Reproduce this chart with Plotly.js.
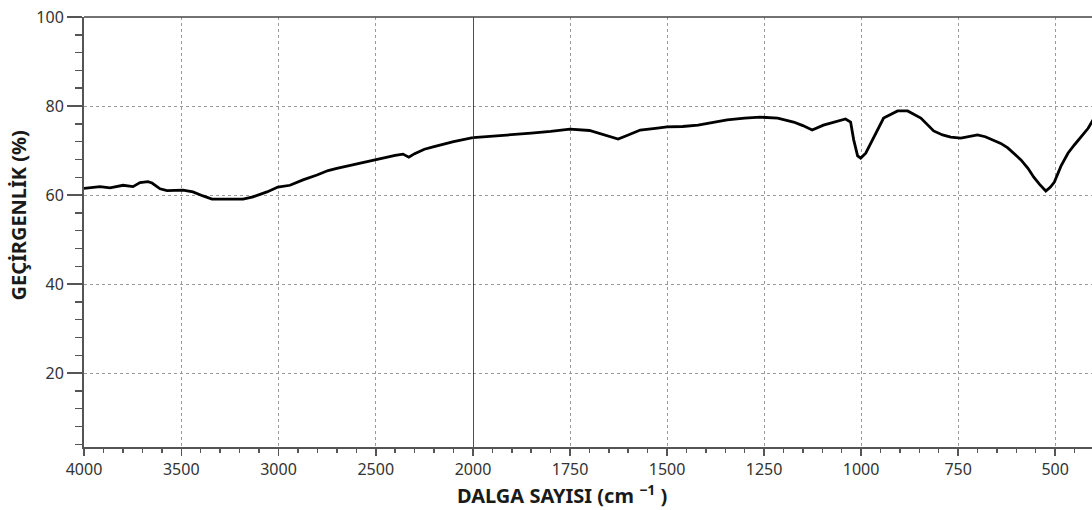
<!DOCTYPE html>
<html><head><meta charset="utf-8">
<script src="https://cdn.plot.ly/plotly-3.0.1.min.js"></script>
<style>html,body{margin:0;padding:0;background:#fff}#chart{width:1092px;height:510px}</style>
</head><body><div id="chart"></div>
<script>
// Wavenumber (cm^-1) and transmittance (%)
const wavenumber = [4000,3918,3866,3799,3748,3712,3671,3650,3609,3573,3491,3440,3388,3342,3182,3131,3059,3003,2941,2874,2802,2745,2700,2600,2500,2400,2360,2330,2300,2250,2200,2100,2000,
  1950,1900,1850,1800,1750,1700,1680,1650,1626,1600,1569,1530,1500,1460,1420,1388,1345,1300,1260,1215,1174,1150,1126,1097,1060,1040,1027,1019,1009,1001,988,968,942,906,880,846,813,790,769,743,720,700,680,666,640,622,605,588,570,555,540,524,512,502,485,467,450,433,415,402];
const transmittance = [61.5,61.9,61.6,62.2,61.9,62.8,63.0,62.7,61.4,61.0,61.1,60.7,59.8,59.1,59.1,59.6,60.7,61.8,62.2,63.4,64.5,65.5,66.0,67.0,67.9,68.9,69.2,68.5,69.3,70.3,70.9,72.0,72.9,
  73.2,73.6,73.9,74.3,74.8,74.5,74.0,73.3,72.6,73.5,74.6,75.0,75.3,75.4,75.7,76.2,76.9,77.3,77.5,77.3,76.4,75.6,74.6,75.7,76.6,77.1,76.4,72.4,68.8,68.3,69.4,72.8,77.3,78.9,78.9,77.3,74.4,73.5,73.0,72.8,73.2,73.5,73.1,72.6,71.6,70.6,69.3,67.9,66.0,64.0,62.4,60.9,61.8,62.9,66.5,69.4,71.3,73.0,75.0,76.9];
const splitAt = 2000;
const leftTicks = [4000,3500,3000,2500,2000];
const rightTicks = [1750,1500,1250,1000,750,500];
const yTicks = [20,40,60,80,100];
const xTitle = 'DALGA SAYISI (cm <sup>−1</sup> )';
const yTitle = 'GEÇİRGENLİK (%)';

const xl=[],yl=[],xr=[],yr=[];
wavenumber.forEach((w,i)=>{ if(w>=splitAt){xl.push(w);yl.push(transmittance[i]);} if(w<=splitAt){xr.push(w);yr.push(transmittance[i]);} });

const FONT = 'Noto Sans, Liberation Sans, Arial, sans-serif';
const lineStyle = {color:'#000', width:2.8};
const traces = [
  {x:xl, y:yl, xaxis:'x', yaxis:'y', mode:'lines', line:lineStyle, hoverinfo:'skip'},
  {x:xr, y:yr, xaxis:'x2', yaxis:'y', mode:'lines', line:lineStyle, hoverinfo:'skip'}
];
const split = (473-84)/1008;
const gridCommon = {showgrid:true, gridcolor:'#9a9a9a', gridwidth:1, griddash:'3px,3px',
  showline:true, linecolor:'#555', linewidth:2, ticks:'outside', tickcolor:'#555', tickwidth:1.5,
  tickfont:{family:FONT, size:16, color:'#333'}, zeroline:false};
const layout = {
  width:1092, height:510, margin:{l:84, r:0, t:17, b:63},
  paper_bgcolor:'#fff', plot_bgcolor:'#fff', showlegend:false,
  xaxis: Object.assign({}, gridCommon, {domain:[0,split], range:[4000,2000], tickmode:'array', tickvals:leftTicks, ticklen:7,
    minor:{dtick:100, ticklen:4, tickcolor:'#555', ticks:'outside', showgrid:false}, anchor:'y'}),
  xaxis2: Object.assign({}, gridCommon, {domain:[split,1], range:[2000,405], tickmode:'array', tickvals:rightTicks, ticklen:7,
    minor:{dtick:50, ticklen:4, tickcolor:'#555', ticks:'outside', showgrid:false}, anchor:'y'}),
  yaxis: Object.assign({}, gridCommon, {range:[3.4,100], tickmode:'array', tickvals:yTicks, ticklen:15,
    minor:{dtick:4, ticklen:7, tickcolor:'#555', ticks:'outside', showgrid:false}}),
  shapes:[
    {type:'line', xref:'x2', yref:'paper', x0:2000, x1:2000, y0:0, y1:1, line:{color:'#222', width:1.6}},
    {type:'line', xref:'paper', yref:'paper', x0:0, x1:1, y0:1, y1:1, line:{color:'#444', width:1.6}}
  ],
  annotations:[
    {text:xTitle, xref:'paper', yref:'paper', x:(562-84)/1008, y:-(494-447)/430,
     xanchor:'center', yanchor:'middle', showarrow:false, font:{family:FONT, size:20, color:'#1a1a1a', weight:'bold'}},
    {text:yTitle, xref:'paper', yref:'paper', x:(17.5-84)/1008, y:(447-216)/430, textangle:-90,
     xanchor:'center', yanchor:'middle', showarrow:false, font:{family:FONT, size:20, color:'#1a1a1a', weight:'bold'}}
  ]
};
Plotly.newPlot('chart', traces, layout, {staticPlot:true, displayModeBar:false});
</script></body></html>
